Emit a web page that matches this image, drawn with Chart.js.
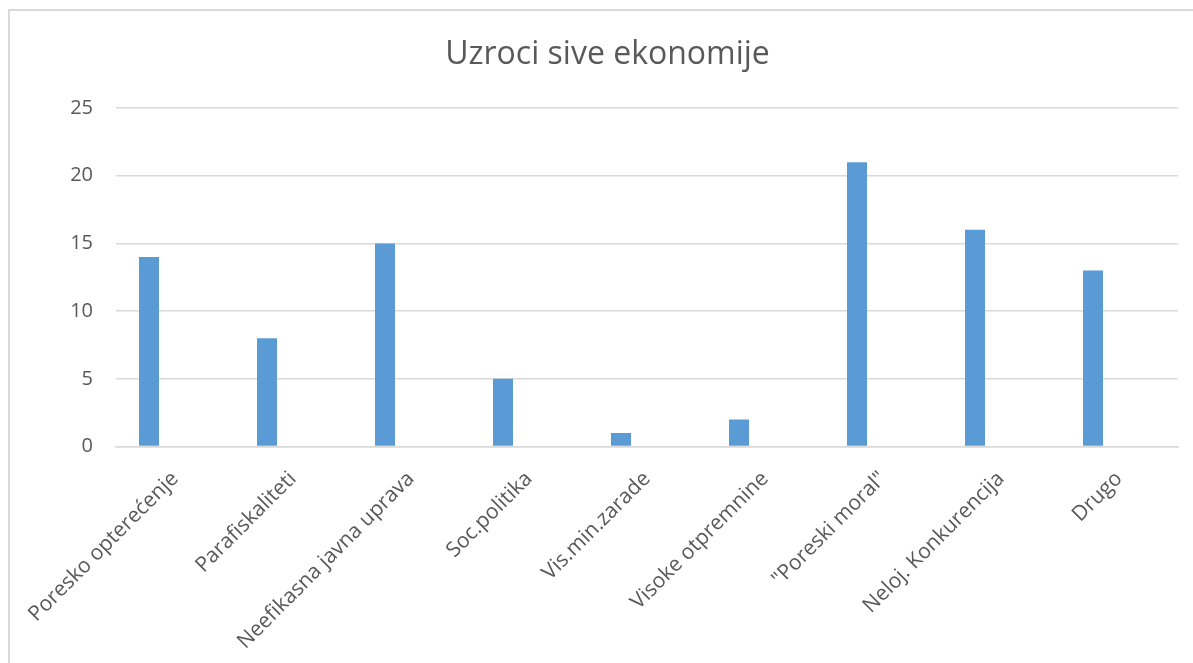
<!DOCTYPE html>
<html lang="sr">
<head>
    <meta charset="UTF-8">
    <title>Uzroci sive ekonomije</title>
    <script src="https://cdn.jsdelivr.net/npm/chart.js"></script>
    <style>
        * {
            padding: 0px;
            margin: 0px;
            box-sizing: border-box;
        }

        body {
            width: 1193px;
            height: 663px;
            overflow: hidden;
            background-color: #ffffff;
            position: relative;
        }

        #frame {
            position: absolute;
            left: 8px;
            top: 9px;
            width: 1220px;
            height: 700px;
            border: 2px solid #d9d9d9;
        }

        .chart-container {
            position: absolute;
            left: 0;
            top: 0;
            width: 1193px;
            height: 663px;
        }
    </style>
</head>

<body>
    <div id="frame"></div>
    <div class="chart-container">
        <canvas id="chart1"></canvas>
    </div>

    <script>
        const categories = [
            'Poresko opterećenje',
            'Parafiskaliteti',
            'Neefikasna javna uprava',
            'Soc.politika',
            'Vis.min.zarade',
            'Visoke otpremnine',
            '"Poreski moral"',
            'Neloj. Konkurencija',
            'Drugo'
        ];
        const values = [14, 8, 15, 5, 1, 2, 21, 16, 13];
        // second series is empty in the source sheet, it only reserves the slot
        const emptySeries = [null, null, null, null, null, null, null, null, null];
        const yTicks = [0, 5, 10, 15, 20, 25];

        const textColor = '#595959';
        const gridColor = '#d9d9d9';

        Chart.defaults.font.family = "'Open Sans', sans-serif";
        Chart.defaults.color = textColor;

        const ctx = document.getElementById('chart1').getContext('2d');
        new Chart(ctx, {
            type: 'bar',
            data: {
                labels: categories,
                datasets: [{
                    label: 'Series1',
                    data: values,
                    backgroundColor: '#5b9bd5',
                    borderWidth: 0,
                    categoryPercentage: 0.881,
                    barPercentage: 0.385
                }, {
                    label: 'Series2',
                    data: emptySeries,
                    backgroundColor: '#ed7d31',
                    categoryPercentage: 0.881,
                    barPercentage: 0.385
                }]
            },
            options: {
                responsive: true,
                maintainAspectRatio: false,
                animation: false,
                layout: {
                    padding: { left: 37, right: 15, top: 0, bottom: 0 }
                },
                plugins: {
                    legend: { display: false },
                    tooltip: { enabled: false },
                    title: {
                        display: true,
                        text: 'Uzroci sive ekonomije',
                        color: textColor,
                        font: { size: 32, weight: 'normal' },
                        padding: { top: 36, bottom: 33.6 }
                    }
                },
                scales: {
                    x: {
                        grid: { display: false, drawTicks: false },
                        border: { display: true, color: gridColor, width: 1.5 },
                        ticks: {
                            autoSkip: false,
                            minRotation: 45,
                            maxRotation: 45,
                            padding: 20,
                            color: textColor,
                            font: { size: 21 }
                        },
                        afterFit: function (scale) {
                            scale.height = 216.5;
                            scale.paddingLeft = 0;
                            scale.paddingRight = 0;
                        }
                    },
                    y: {
                        min: 0,
                        max: 25,
                        afterBuildTicks: function (scale) {
                            scale.ticks = yTicks.map(v => ({ value: v }));
                        },
                        afterFit: function (scale) {
                            scale.width = 79;
                        },
                        grid: { color: gridColor, lineWidth: 1.5, drawTicks: false },
                        border: { display: false },
                        ticks: {
                            padding: 23,
                            color: textColor,
                            font: { size: 20 }
                        }
                    }
                }
            }
        });
    </script>
</body>
</html>
